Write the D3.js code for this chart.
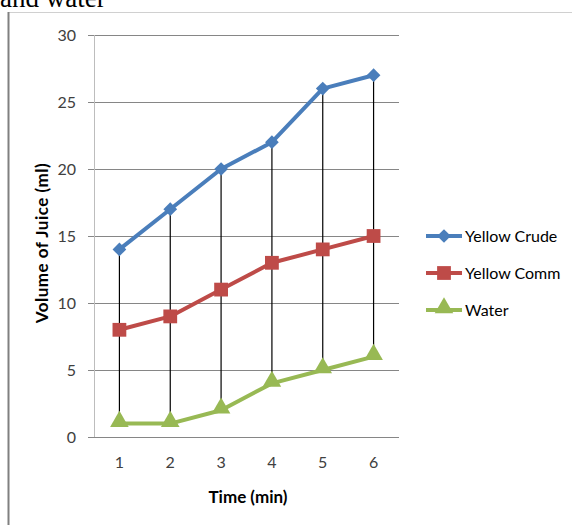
<!DOCTYPE html>
<html>
<head>
<meta charset="utf-8">
<script src="https://cdn.jsdelivr.net/npm/d3@7"></script>
<style>
    body { margin: 0; background: #fff; }
    svg { display: block; }
    text { font-family: Lato, "Open Sans", sans-serif; }
</style>
</head>
<body>
<div id="chart"></div>
<script>
// chart data
const times = [1, 2, 3, 4, 5, 6];
const yellowCrude = [14, 17, 20, 22, 26, 27];
const yellowComm = [8, 9, 11, 13, 14, 15];
const water = [1, 1, 2, 4, 5, 6];
const yTicks = [0, 5, 10, 15, 20, 25, 30];

const series = [
    { name: 'Yellow Crude', values: yellowCrude, color: '#4a7ebb', marker: 'diamond' },
    { name: 'Yellow Comm', values: yellowComm, color: '#be4b48', marker: 'square' },
    { name: 'Water', values: water, color: '#98b954', marker: 'triangle' }
];

let width = 572, height = 525;
let margins = { 'top': 35, 'bottom': 88, 'left': 94, 'right': 173 };

let svg = d3.select('#chart')
    .append('svg')
    .attr('width', width)
    .attr('height', height);

// page bits around the chart (cut-off caption and frame)
svg.append('text')
    .attr('x', 0)
    .attr('y', 7)
    .style('font-family', '"Liberation Serif", serif')
    .style('font-size', '27px')
    .attr('fill', '#000')
    .text('and water');

svg.append('line')
    .attr('x1', 8).attr('x2', width)
    .attr('y1', 12.5).attr('y2', 12.5)
    .attr('stroke', '#d0d0d0');

svg.append('line')
    .attr('x1', 8.5).attr('x2', 8.5)
    .attr('y1', 12).attr('y2', height)
    .attr('stroke', '#808080')
    .attr('stroke-width', 2);

let x = d3.scaleBand()
    .domain(times)
    .range([margins.left, width - margins.right]);

let y = d3.scaleLinear()
    .domain([0, 30])
    .range([height - margins.bottom, margins.top]);

let cx = d => x(d) + x.bandwidth() / 2;

// gridlines + y ticks
let yAxis = svg.append('g')
    .attr('transform', `translate(${margins.left},0)`)
    .call(d3.axisLeft(y).tickValues(yTicks).tickSize(6).tickPadding(12)
        .tickSizeOuter(0));
yAxis.select('.domain').remove();
yAxis.selectAll('.tick line').attr('stroke', '#868686');
yAxis.selectAll('.tick text')
    .attr('fill', '#404040')
    .style('font-size', '16px');

svg.append('g')
    .selectAll('line')
    .data(yTicks)
    .enter()
    .append('line')
    .attr('x1', margins.left)
    .attr('x2', width - margins.right)
    .attr('y1', d => Math.round(y(d)) + 0.5)
    .attr('y2', d => Math.round(y(d)) + 0.5)
    .attr('stroke', '#868686');

yAxis.selectAll('.tick').attr('transform', d => `translate(0,${Math.round(y(d)) + 0.5})`);

svg.append('line')
    .attr('x1', margins.left + 0.5).attr('x2', margins.left + 0.5)
    .attr('y1', margins.top).attr('y2', y(0))
    .attr('stroke', '#bdbdbd');

// x axis
let xAxis = svg.append('g')
    .attr('transform', `translate(0,${height - margins.bottom})`)
    .call(d3.axisBottom(x).tickSize(0).tickPadding(20));
xAxis.select('.domain').remove();
xAxis.selectAll('.tick text')
    .attr('fill', '#404040')
    .style('font-size', '16px');

// axis titles
svg.append('text')
    .attr('x', 248)
    .attr('y', 503)
    .attr('text-anchor', 'middle')
    .style('font-size', '17px')
    .style('font-weight', 'bold')
    .attr('fill', '#000')
    .text('Time (min)');

svg.append('text')
    .attr('transform', 'translate(48,243) rotate(-90)')
    .attr('text-anchor', 'middle')
    .style('font-size', '17px')
    .style('font-weight', 'bold')
    .style('letter-spacing', '0.5px')
    .attr('fill', '#000')
    .text('Volume of Juice (ml)');

// high-low lines
svg.append('g')
    .selectAll('line')
    .data(times)
    .enter()
    .append('line')
    .attr('x1', d => cx(d)).attr('x2', d => cx(d))
    .attr('y1', (d, i) => y(d3.max(series, s => s.values[i])))
    .attr('y2', (d, i) => y(d3.min(series, s => s.values[i])))
    .attr('stroke', '#000')
    .attr('stroke-width', 1.2);

const markerPath = {
    diamond: d3.symbol().type(d3.symbolDiamond2).size(120),
    square: d3.symbol().type(d3.symbolSquare).size(190),
    triangle: d3.symbol().type(d3.symbolTriangle).size(150)
};

let line = d3.line()
    .x((d, i) => cx(times[i]))
    .y(d => y(d));

let seriesGroup = svg.selectAll('.series')
    .data(series)
    .enter()
    .append('g')
    .classed('series', true);

seriesGroup.append('path')
    .attr('d', d => line(d.values))
    .attr('fill', 'none')
    .attr('stroke', d => d.color)
    .attr('stroke-width', 4)
    .attr('stroke-linejoin', 'round');

seriesGroup.selectAll('path.marker')
    .data(d => d.values.map((v, i) => ({ v: v, t: times[i], s: d })))
    .enter()
    .append('path')
    .classed('marker', true)
    .attr('transform', d => `translate(${cx(d.t)},${y(d.v) + (d.s.marker === 'triangle' ? -2 : 0)})`)
    .attr('d', d => markerPath[d.s.marker]())
    .attr('fill', d => d.s.color);

// legend
let legend = svg.append('g')
    .selectAll('g')
    .data(series)
    .enter()
    .append('g')
    .attr('transform', (d, i) => `translate(426,${236 + i * 37})`);

legend.append('line')
    .attr('x1', 0).attr('x2', 36)
    .attr('stroke', d => d.color)
    .attr('stroke-width', 4);

legend.append('path')
    .attr('transform', d => `translate(18,${d.marker === 'triangle' ? -2 : 0})`)
    .attr('d', d => markerPath[d.marker]())
    .attr('fill', d => d.color);

legend.append('text')
    .attr('x', 39)
    .attr('y', 6)
    .style('font-size', '16px')
    .attr('fill', '#000')
    .text(d => d.name);
</script>
</body>
</html>
